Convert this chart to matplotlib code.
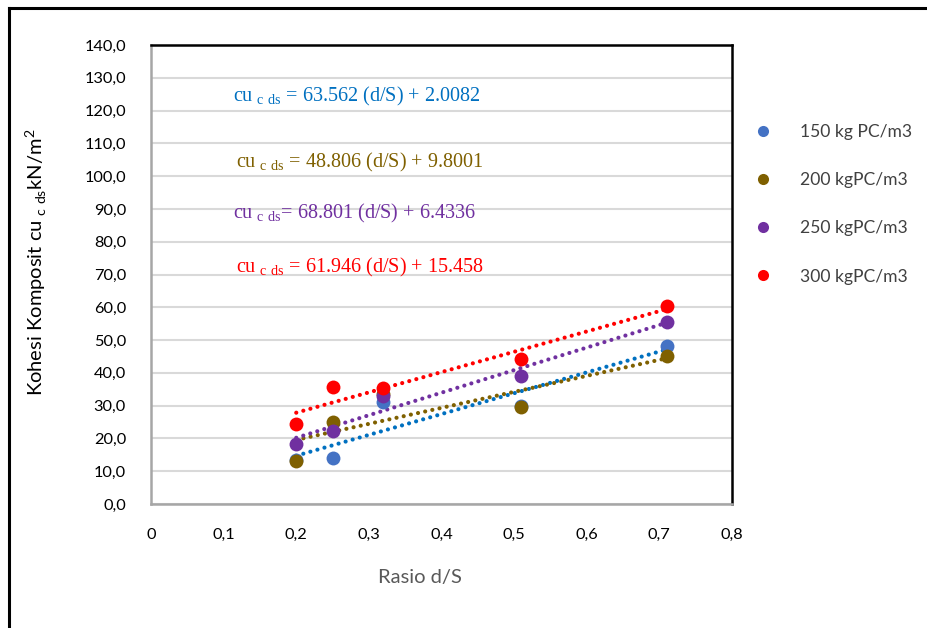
import numpy as np
import matplotlib
matplotlib.use('Agg')
import matplotlib.pyplot as plt
from matplotlib.lines import Line2D
from matplotlib.ticker import FuncFormatter

plt.rcParams['font.family'] = 'Lato'
plt.rcParams['mathtext.fontset'] = 'custom'
plt.rcParams['mathtext.rm'] = 'Liberation Serif'
plt.rcParams['mathtext.sf'] = 'Lato'

# rasio d/S
x = [0.20, 0.25, 0.32, 0.51, 0.71]

labels = ['150 kg PC/m3', '200 kgPC/m3', '250 kgPC/m3', '300 kgPC/m3']
cu_150 = [13.4, 14.0, 31.0, 29.8, 48.3]
cu_200 = [13.1, 24.9, 33.4, 29.6, 45.1]
cu_250 = [18.2, 22.3, 32.9, 39.1, 55.4]
cu_300 = [24.3, 35.6, 35.3, 44.2, 60.5]

# koefisien garis tren linier
slopes = [63.562, 48.806, 68.801, 61.946]
intercepts = [2.0082, 9.8001, 6.4336, 15.458]
eq_coef = ['63.562', '48.806', '68.801', '61.946']
eq_const = ['2.0082', '9.8001', '6.4336', '15.458']

marker_colors = ['#4472C4', '#7F6000', '#7030A0', '#FF0000']
line_colors = ['#0070C0', '#7F6000', '#7030A0', '#FF0000']
eq_pos = [(233, 101), (236, 167), (233, 218), (236, 272)]

W, H = 927, 628
fig = plt.figure(figsize=(W / 100, H / 100), dpi=100)
ax = fig.add_axes([151 / W, 1 - 504 / H, (732 - 151) / W, (504 - 45) / H])

series = [cu_150, cu_200, cu_250, cu_300]
xs = np.array(x)
xt = np.array([xs.min(), xs.max()])
for i in range(4):
    ax.plot(xt, slopes[i] * xt + intercepts[i], linestyle=(0, (0.01, 1.75)),
            dash_capstyle='round', lw=3, color=line_colors[i], zorder=3)
for i, y in enumerate(series):
    ax.scatter(x, y, s=100, color=marker_colors[i], zorder=4, linewidths=0)

for i in range(4):
    gap = '' if i == 2 else ' '
    eq = (r'cu$_{\mathrm{\ c\ ds}}$' + gap + f'= {eq_coef[i]} (d/S) + {eq_const[i]}')
    fig.text(eq_pos[i][0] / W, 1 - eq_pos[i][1] / H, eq, color=line_colors[i],
             family='Liberation Serif', fontsize=14.5, ha='left', va='baseline')

ax.set_xlim(0, 0.8)
ax.set_ylim(0, 140)
ax.set_xticks(np.arange(0, 0.81, 0.1))
ax.set_yticks(np.arange(0, 141, 10))
ax.xaxis.set_major_formatter(FuncFormatter(lambda v, p: '0' if v == 0 else f'{v:.1f}'.replace('.', ',')))
ax.yaxis.set_major_formatter(FuncFormatter(lambda v, p: f'{v:.1f}'.replace('.', ',')))
ax.tick_params(length=0, labelsize=11.8, colors='#000000')
ax.tick_params(axis='y', pad=18)
ax.tick_params(axis='x', pad=17)
ax.grid(axis='y', color='#D9D9D9', lw=1.5)
ax.set_axisbelow(True)
for s in ['top', 'right']:
    ax.spines[s].set_color('black')
    ax.spines[s].set_linewidth(1.8)
for s in ['left', 'bottom']:
    ax.spines[s].set_color('#A6A6A6')
    ax.spines[s].set_linewidth(1.8)

fig.text(420 / W, 1 - 578 / H, 'Rasio d/S', color='#595959', fontsize=14.5,
         ha='center', va='center')
fig.text(36 / W, 1 - 262 / H, r'Kohesi Komposit cu$_{\mathsf{\ c\ ds}}$kN/m$^{\mathsf{2}}$',
         rotation=90, fontsize=14.5, ha='center', va='center')

handles = [Line2D([], [], marker='o', linestyle='none', markersize=8,
                  markerfacecolor=c, markeredgewidth=0) for c in marker_colors]
fig.legend(handles, labels, loc='upper left', bbox_to_anchor=(745 / W, 1 - 117 / H),
           frameon=False, fontsize=12.6, labelcolor='#404040', labelspacing=1.84,
           handlelength=1.2, handletextpad=1.55, borderaxespad=0)

# bingkai luar
fig.add_artist(Line2D([9 / W, 9 / W], [0, 1 - 8 / H], color='black', lw=2.2))
fig.add_artist(Line2D([9 / W, 1], [1 - 8 / H, 1 - 8 / H], color='black', lw=2.2))

fig.savefig('out.png', dpi=100)
